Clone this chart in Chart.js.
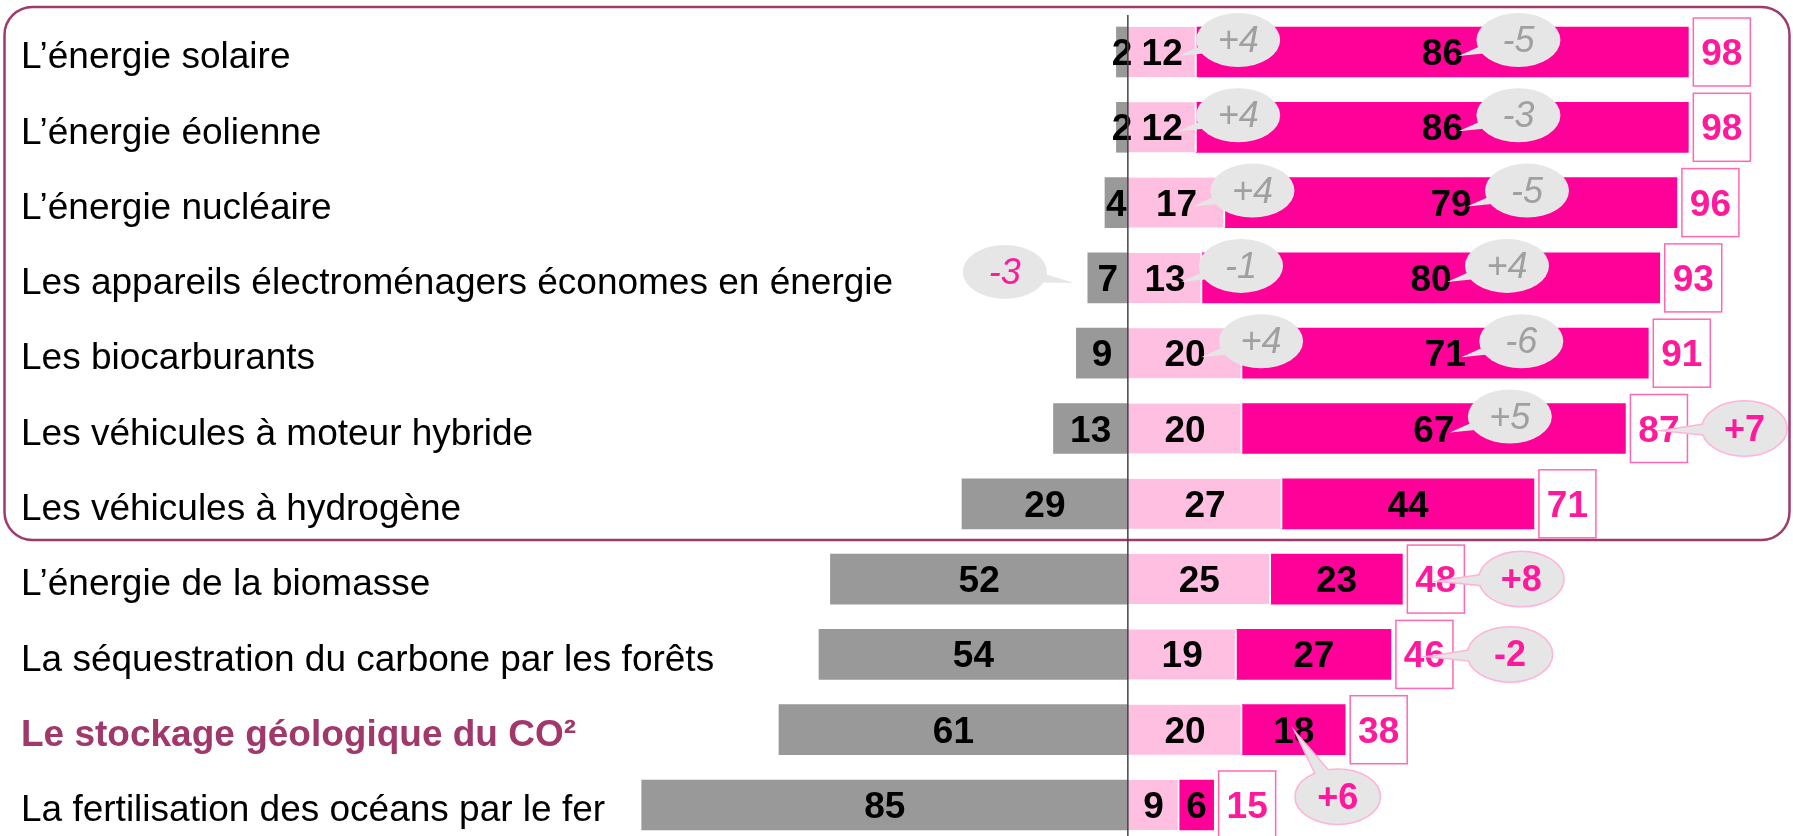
<!DOCTYPE html>
<html>
<head>
<meta charset="utf-8">
<script src="https://cdn.jsdelivr.net/npm/chart.js@4"></script>
<style>
html, body { margin: 0; padding: 0; background: #fff; overflow: hidden; }
</style>
</head>
<body>
<canvas id="chartEnergies" width="1793" height="836"></canvas>
<script>
// categories + valeurs (en %)
var categories = [
  'L\u2019énergie solaire',
  'L\u2019énergie éolienne',
  'L\u2019énergie nucléaire',
  'Les appareils électroménagers économes en énergie',
  'Les biocarburants',
  'Les véhicules à moteur hybride',
  'Les véhicules à hydrogène',
  'L\u2019énergie de la biomasse',
  'La séquestration du carbone par les forêts',
  'Le stockage géologique du CO²',
  'La fertilisation des océans par le fer'
];
var nonFavorable   = [2, 2, 4, 7, 9, 13, 29, 52, 54, 61, 85];
var assezFavorable = [12, 12, 17, 13, 20, 20, 27, 25, 19, 20, 9];
var tresFavorable  = [86, 86, 79, 80, 71, 67, 44, 23, 27, 18, 6];
var totalFavorable = [98, 98, 96, 93, 91, 87, 71, 48, 46, 38, 15];

// evolutions (bulles)
var evolNon   = [null, null, null, -3, null, null, null, null, null, null, null];
var evolAssez = [4, 4, 4, -1, 4, null, null, null, null, null, null];
var evolTres  = [-5, -3, -5, 4, -6, 5, null, null, null, 6, null];
var evolTotal = [null, null, null, null, null, 7, null, 8, -2, null, null];

var FONT = '"Liberation Sans", Arial, sans-serif';
var rose = '#ff0099';
var roseClair = '#ffbfe1';
var gris = '#999999';
var roseTexte = '#ff1a9c';

function signe(v) { return (v > 0 ? '+' : '') + v; }

function bulle(ctx, cx, cy, tx, ty, texte, fort, couleur) {
  var rx = 42, ry = 27, w = 10;
  var ang = Math.atan2(ty - cy, tx - cx);
  var px = Math.cos(ang + Math.PI / 2) * w, py = Math.sin(ang + Math.PI / 2) * w;
  function queue() {
    ctx.beginPath();
    ctx.moveTo(tx, ty);
    ctx.lineTo(cx + px, cy + py);
    ctx.lineTo(cx - px, cy - py);
    ctx.closePath();
  }
  function rond() {
    ctx.beginPath();
    ctx.ellipse(cx, cy, rx, ry, 0, 0, Math.PI * 2);
  }
  if (fort) {
    ctx.lineWidth = 3;
    ctx.strokeStyle = '#ffb3da';
    queue(); ctx.stroke();
    rond(); ctx.stroke();
  }
  ctx.fillStyle = '#e6e6e6';
  queue(); ctx.fill();
  rond(); ctx.fill();
  ctx.fillStyle = couleur;
  ctx.font = fort ? 'bold 36px ' + FONT : 'italic 36px ' + FONT;
  ctx.textAlign = 'center';
  ctx.textBaseline = 'alphabetic';
  ctx.fillText(texte, cx, cy + 12);
}

var decorPlugin = {
  id: 'decor',
  beforeDatasetsDraw: function (chart) {
    var ctx = chart.ctx;
    // cadre arrondi
    var x = 4.5, y = 7, w = 1785, h = 533, r = 28;
    ctx.save();
    ctx.beginPath();
    ctx.moveTo(x + r, y);
    ctx.arcTo(x + w, y, x + w, y + h, r);
    ctx.arcTo(x + w, y + h, x, y + h, r);
    ctx.arcTo(x, y + h, x, y, r);
    ctx.arcTo(x, y, x + w, y, r);
    ctx.closePath();
    ctx.lineWidth = 2.5;
    ctx.strokeStyle = '#9e3a6c';
    ctx.stroke();
    ctx.restore();
  },
  afterDatasetsDraw: function (chart) {
    var ctx = chart.ctx;
    var xs = chart.scales.x, ys = chart.scales.y;
    var x0 = xs.getPixelForValue(0);
    ctx.save();

    // valeurs dans les barres
    ctx.fillStyle = '#000';
    ctx.font = 'bold 37px ' + FONT;
    ctx.textAlign = 'center';
    ctx.textBaseline = 'alphabetic';
    categories.forEach(function (c, i) {
      var yy = ys.getPixelForValue(i) + 13;
      var g = xs.getPixelForValue(-nonFavorable[i]);
      var a = xs.getPixelForValue(assezFavorable[i]);
      var t = xs.getPixelForValue(assezFavorable[i] + tresFavorable[i]);
      ctx.fillText(nonFavorable[i], (g + x0) / 2, yy);
      ctx.fillText(assezFavorable[i], (x0 + a) / 2, yy);
      ctx.fillText(tresFavorable[i], (a + t) / 2, yy);
    });

    // axe zero
    ctx.beginPath();
    ctx.moveTo(x0, 15);
    ctx.lineTo(x0, 836);
    ctx.lineWidth = 1.5;
    ctx.strokeStyle = '#444';
    ctx.stroke();

    // totaux encadres
    categories.forEach(function (c, i) {
      var yc = ys.getPixelForValue(i);
      var bx = xs.getPixelForValue(totalFavorable[i]) + 5;
      ctx.fillStyle = '#fff';
      ctx.fillRect(bx, yc - 34, 57, 68);
      ctx.lineWidth = 1.5;
      ctx.strokeStyle = '#ff69b4';
      ctx.strokeRect(bx, yc - 34, 57, 68);
      ctx.fillStyle = roseTexte;
      ctx.font = 'bold 37px ' + FONT;
      ctx.fillText(totalFavorable[i], bx + 28.5, yc + 13);
    });

    // bulles d'evolution
    categories.forEach(function (c, i) {
      var yc = ys.getPixelForValue(i);
      var g = xs.getPixelForValue(-nonFavorable[i]);
      var a = xs.getPixelForValue(assezFavorable[i]);
      var t = xs.getPixelForValue(assezFavorable[i] + tresFavorable[i]);
      if (evolNon[i] !== null) {
        bulle(ctx, g - 83, yc - 6, g - 14, yc + 5, signe(evolNon[i]), false, roseTexte);
      }
      if (evolAssez[i] !== null) {
        var la = (x0 + a) / 2;
        bulle(ctx, la + 76, yc - 12, la + 16, yc + 4, signe(evolAssez[i]), false, '#a0a0a0');
      }
      if (evolTres[i] !== null) {
        var lt = (a + t) / 2;
        if (i >= 7) {
          bulle(ctx, lt + 44, yc + 67, lt + 4, yc + 6, signe(evolTres[i]), true, roseTexte);
        } else {
          bulle(ctx, lt + 76, yc - 12, lt + 16, yc + 4, signe(evolTres[i]), false, '#a0a0a0');
        }
      }
      if (evolTotal[i] !== null) {
        var bx = xs.getPixelForValue(totalFavorable[i]) + 5;
        bulle(ctx, bx + 57 + 57, yc, bx + 36, yc + 2, signe(evolTotal[i]), true, roseTexte);
      }
    });
    ctx.restore();
  }
};

const ctx = document.getElementById('chartEnergies');

new Chart(ctx, {
  type: 'bar',
  data: {
    labels: categories,
    datasets: [{
      label: 'Défavorable',
      data: nonFavorable.map(function (v) { return -v; }),
      backgroundColor: gris,
      borderWidth: 0
    }, {
      label: 'Assez favorable',
      data: assezFavorable,
      backgroundColor: roseClair,
      borderColor: '#fff',
      borderWidth: { right: 2 },
      borderSkipped: false
    }, {
      label: 'Très favorable',
      data: tresFavorable,
      backgroundColor: rose,
      borderWidth: 0
    }]
  },
  options: {
    indexAxis: 'y',
    responsive: false,
    animation: false,
    clip: false,
    barThickness: 50,
    layout: { padding: { top: 52, bottom: 31, left: 0, right: 0 } },
    plugins: { legend: { display: false }, tooltip: { enabled: false } },
    scales: {
      x: {
        stacked: true,
        display: false,
        min: -197.2,
        max: 116.3
      },
      y: {
        stacked: true,
        offset: false,
        grid: { display: false, drawTicks: false },
        border: { display: false },
        afterFit: function (s) {
          // libelles en miroir: pas de largeur ni de marge en plus
          s.width = 0;
          s.paddingTop = 0;
          s.paddingBottom = 0;
        },
        ticks: {
          mirror: true,
          padding: 21,
          autoSkip: false,
          labelOffset: 6,
          color: function (c) { return c.index === 9 ? '#a0386c' : '#000'; },
          font: function (c) {
            return { family: FONT, size: 37, weight: c.index === 9 ? 'bold' : 'normal' };
          }
        }
      }
    }
  },
  plugins: [decorPlugin]
});
</script>
</body>
</html>
